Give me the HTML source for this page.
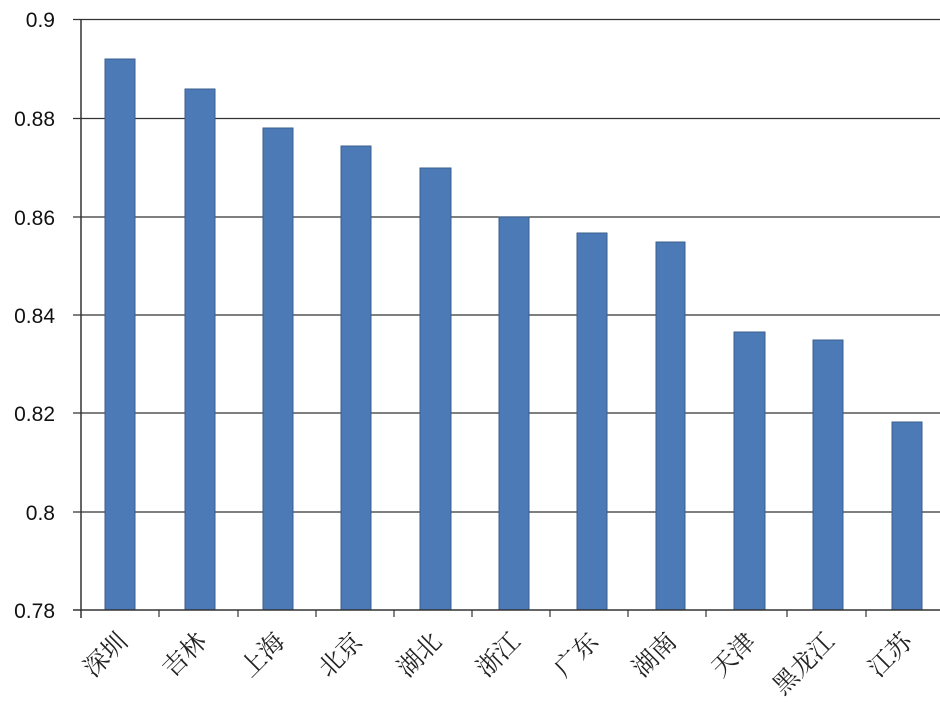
<!DOCTYPE html>
<html><head><meta charset="utf-8"><style>
html,body{margin:0;padding:0;background:#fff;}
svg{display:block;}
</style></head><body>
<svg width="940" height="706" xmlns="http://www.w3.org/2000/svg">
<rect width="940" height="706" fill="#fff"/>
<g stroke="#333" stroke-width="1.3">
<line x1="73" y1="19.5" x2="940" y2="19.5"/>
<line x1="73" y1="118.5" x2="940" y2="118.5"/>
<line x1="73" y1="217" x2="940" y2="217"/>
<line x1="73" y1="315" x2="940" y2="315"/>
<line x1="73" y1="413" x2="940" y2="413"/>
<line x1="73" y1="512" x2="940" y2="512"/>
</g>
<g fill="#4b7ab6" stroke="#3a5f8f" stroke-width="1">
<rect x="105" y="59" width="30" height="551"/>
<rect x="185" y="89" width="30" height="521"/>
<rect x="263" y="128" width="30" height="482"/>
<rect x="341" y="146" width="30" height="464"/>
<rect x="420" y="168" width="31" height="442"/>
<rect x="499" y="217" width="30" height="393"/>
<rect x="577" y="233" width="30" height="377"/>
<rect x="656" y="242" width="29" height="368"/>
<rect x="734" y="332" width="31" height="278"/>
<rect x="813" y="340" width="30" height="270"/>
<rect x="892" y="422" width="30" height="188"/>
</g>
<g stroke="#333" stroke-width="1.5">
<line x1="81" y1="19" x2="81" y2="618"/>
<line x1="73" y1="610" x2="940" y2="610"/>
</g>
<g stroke="#333" stroke-width="1.2">
<line x1="159" y1="610" x2="159" y2="617"/>
<line x1="238" y1="610" x2="238" y2="617"/>
<line x1="316" y1="610" x2="316" y2="617"/>
<line x1="394" y1="610" x2="394" y2="617"/>
<line x1="472" y1="610" x2="472" y2="617"/>
<line x1="550" y1="610" x2="550" y2="617"/>
<line x1="628" y1="610" x2="628" y2="617"/>
<line x1="706" y1="610" x2="706" y2="617"/>
<line x1="787" y1="610" x2="787" y2="617"/>
<line x1="866" y1="610" x2="866" y2="617"/>
</g>
<g font-family="Liberation Sans, sans-serif" font-size="21" fill="#111" text-anchor="end">
<text x="55" y="27">0.9</text>
<text x="55" y="126">0.88</text>
<text x="55" y="225">0.86</text>
<text x="55" y="323">0.84</text>
<text x="55" y="421">0.82</text>
<text x="55" y="520">0.8</text>
<text x="55" y="618">0.78</text>
</g>
<g font-family="Liberation Sans, 'Noto Serif CJK SC', 'Noto Sans CJK SC', serif" font-size="25" fill="#222" text-anchor="end">
<text transform="translate(129,643) rotate(-45)">深圳</text>
<text transform="translate(208,643) rotate(-45)">吉林</text>
<text transform="translate(286,643) rotate(-45)">上海</text>
<text transform="translate(364,643) rotate(-45)">北京</text>
<text transform="translate(443,643) rotate(-45)">湖北</text>
<text transform="translate(522,643) rotate(-45)">浙江</text>
<text transform="translate(600,643) rotate(-45)">广东</text>
<text transform="translate(678,643) rotate(-45)">湖南</text>
<text transform="translate(757,643) rotate(-45)">天津</text>
<text transform="translate(836,643) rotate(-45)">黑龙江</text>
<text transform="translate(914,643) rotate(-45)">江苏</text>
</g>
</svg>
</body></html>
